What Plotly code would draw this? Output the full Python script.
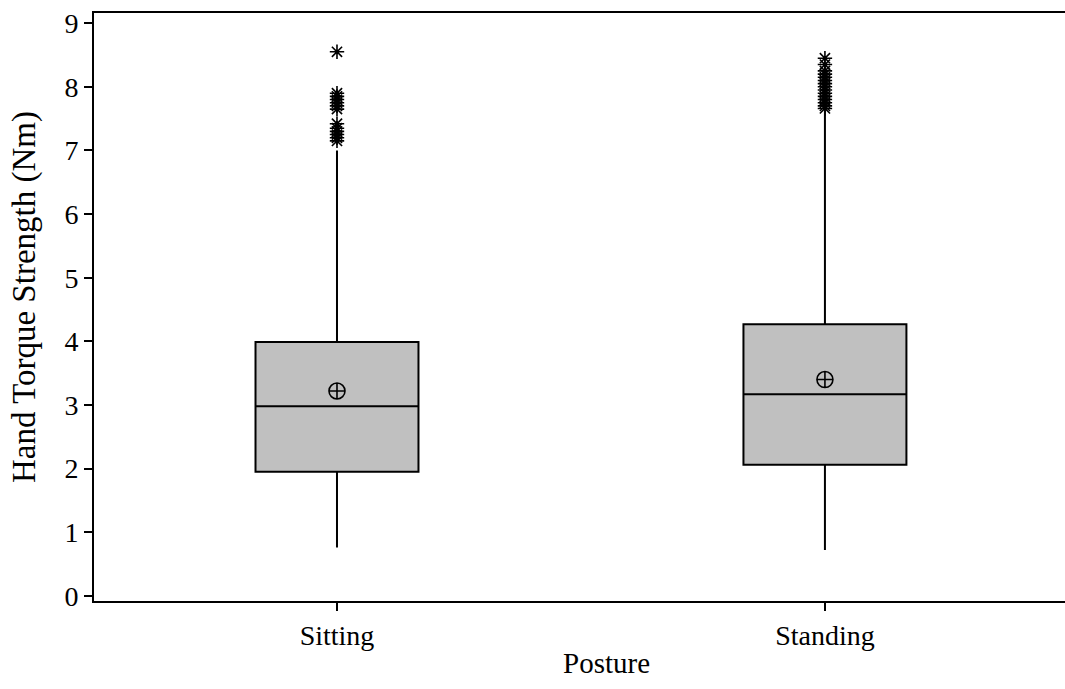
import plotly.graph_objects as go

# Summary statistics per posture (Nm)
postures = ["Sitting", "Standing"]
q1 = [1.95, 2.06]
medians = [2.98, 3.17]
q3 = [3.99, 4.27]
lower_whisker = [0.76, 0.72]
upper_whisker = [7.00, 7.62]
means = [3.22, 3.40]

# Outlying observations per posture
sitting_outliers = [8.55, 7.90, 7.85, 7.80, 7.75, 7.70, 7.65, 7.42, 7.35, 7.30, 7.25, 7.20, 7.15]
standing_outliers = [8.45, 8.35, 8.25, 8.20, 8.15, 8.10, 8.05, 8.00, 7.95, 7.90, 7.85, 7.80, 7.75, 7.70, 7.66]

y_ticks = list(range(0, 10))

FONT = "Liberation Serif"
W, H = 1065, 689
ML, MR, MT, MB = 94, 0, 13, 88
xpos = list(range(len(postures)))


def paper_x(px):
    return (px - ML) / (W - ML - MR)


def paper_y(py):
    return (H - MB - py) / (H - MT - MB)


fig = go.Figure()

fig.add_trace(go.Box(
    x=xpos,
    q1=q1,
    median=medians,
    q3=q3,
    lowerfence=lower_whisker,
    upperfence=upper_whisker,
    width=0.334,
    whiskerwidth=0,
    fillcolor="#c0c0c0",
    line=dict(color="black", width=2),
    boxpoints=False,
    showlegend=False,
    hoverinfo="skip",
))

fig.add_trace(go.Scatter(
    x=[0] * len(sitting_outliers) + [1] * len(standing_outliers),
    y=sitting_outliers + standing_outliers,
    mode="markers",
    marker=dict(symbol="asterisk-open", size=12, color="black",
                line=dict(color="black", width=1.6)),
    showlegend=False,
))

fig.add_trace(go.Scatter(
    x=xpos,
    y=means,
    mode="markers",
    marker=dict(symbol="circle-cross-open", size=16, color="black",
                line=dict(color="black", width=1.6)),
    showlegend=False,
))

# Axis titles
fig.add_annotation(text="Posture", xref="paper", yref="paper",
                   x=paper_x(606), y=paper_y(663), xanchor="center", yanchor="middle",
                   showarrow=False, font=dict(family=FONT, size=29, color="black"))
fig.add_annotation(text="Hand Torque Strength (Nm)", xref="paper", yref="paper",
                   x=paper_x(24), y=paper_y(297), xanchor="center", yanchor="middle",
                   textangle=-90, showarrow=False,
                   font=dict(family=FONT, size=33, color="black"))

fig.update_layout(
    width=W,
    height=H,
    margin=dict(l=ML, r=MR, t=MT, b=MB),
    plot_bgcolor="white",
    paper_bgcolor="white",
    font=dict(family=FONT, size=28, color="black"),
    xaxis=dict(
        range=[-0.498, 1.492],
        tickvals=xpos,
        ticktext=postures,
        ticks="outside",
        ticklen=8,
        tickwidth=2,
        tickcolor="black",
        showline=True,
        linecolor="black",
        linewidth=2,
        mirror=True,
        showgrid=False,
        zeroline=False,
        tickfont=dict(size=28),
    ),
    yaxis=dict(
        range=[-0.08, 9.16],
        tickvals=y_ticks,
        ticks="outside",
        ticklen=8,
        tickwidth=2,
        tickcolor="black",
        showline=True,
        linecolor="black",
        linewidth=2,
        showgrid=False,
        zeroline=False,
        tickfont=dict(size=28),
    ),
)

fig.write_html("out.html")
